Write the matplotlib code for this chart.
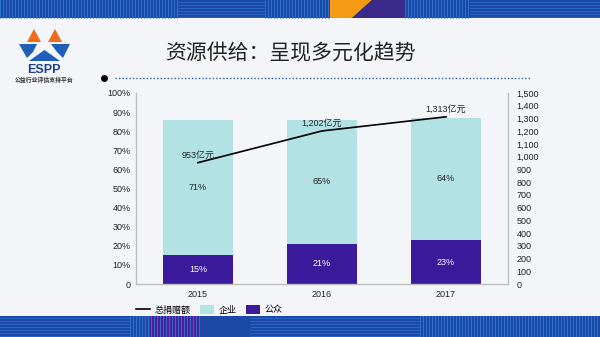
import matplotlib
matplotlib.use("Agg")
import matplotlib.pyplot as plt
from matplotlib.patches import Rectangle, Polygon
from matplotlib.ticker import FuncFormatter, MultipleLocator

plt.rcParams["font.family"] = ["Liberation Sans", "Noto Sans CJK SC", "DejaVu Sans"]

years = ["2015", "2016", "2017"]
public_pct = [15, 21, 23]
company_pct = [71, 65, 64]
total_donation = [953, 1202, 1313]
total_labels = ["953亿元", "1,202亿元", "1,313亿元"]

TEAL = "#b2e2e4"
PURPLE = "#3b1b9b"
BG = "#f3f5f9"
BAND = "#1c49a8"

fig = plt.figure(figsize=(6.0, 3.37), dpi=100, facecolor=BG)

# decorative bands at top and bottom
deco = fig.add_axes([0, 0, 1, 1], zorder=0)
deco.set_xlim(0, 600)
deco.set_ylim(337, 0)
deco.axis("off")
deco.add_patch(Rectangle((0, 0), 600, 18, color=BAND, lw=0))
deco.add_patch(Rectangle((0, 316), 600, 21, color=BAND, lw=0))
for x0, x1 in [(0, 178), (265, 330), (405, 470)]:
    for xs in range(x0, x1, 3):
        deco.plot([xs, xs], [0, 18], color="#2f7ad6", lw=0.6)
for x0, x1 in [(470, 600), (178, 265)]:
    for ys in range(2, 18, 3):
        deco.plot([x0, x1], [ys, ys], color="#2f6fd0", lw=0.5)
deco.add_patch(Polygon([(330, 0), (372, 0), (352, 18), (330, 18)], color="#f59a12", lw=0))
deco.add_patch(Polygon([(372, 0), (405, 0), (405, 18), (352, 18)], color="#3a2a8a", lw=0))
for x0, x1 in [(130, 200), (420, 600)]:
    for xs in range(x0, x1, 3):
        deco.plot([xs, xs], [316, 337], color="#2f7ad6", lw=0.6)
deco.add_patch(Rectangle((150, 316), 50, 21, color="#4a1f9a", lw=0))
for ys in range(318, 337, 3):
    deco.plot([0, 130], [ys, ys], color="#2f6fd0", lw=0.5)
    deco.plot([250, 420], [ys, ys], color="#2f6fd0", lw=0.5)

# logo
deco.add_patch(Polygon([(27, 42), (34, 29), (41, 42)], color="#f26a1b", lw=0))
deco.add_patch(Polygon([(48, 42), (55, 29), (62, 42)], color="#f26a1b", lw=0))
deco.add_patch(Polygon([(19, 44), (37, 44), (33, 52), (27, 58)], color="#1f5fb8", lw=0))
deco.add_patch(Polygon([(51, 44), (70, 44), (63, 58), (57, 52)], color="#1f5fb8", lw=0))
deco.add_patch(Polygon([(29, 61), (60, 61), (44.5, 50)], color="#1f5fb8", lw=0))
deco.text(44, 70, "ESPP", ha="center", va="center", fontsize=9,
          fontweight="bold", color="#1d3f8f")
deco.text(44, 80, "公益行业评估支持平台", ha="center", va="center",
          fontsize=4.2, fontweight="bold", color="#333333")

# title and dotted rule
deco.text(165, 53, "资源供给：呈现多元化趋势", ha="left", va="center",
          fontsize=15, color="#222222")
deco.plot([104], [78], "o", color="black", ms=4)
deco.plot([115, 530], [78, 78], color="#2a5aa8", lw=1.0, ls=(0, (1, 1.5)))

ax = fig.add_axes([136 / 600, 53 / 337, 372 / 600, 191 / 337], zorder=1)
ax.set_facecolor("none")
x = range(len(years))
ax.bar(x, public_pct, width=0.56, color=PURPLE, label="公众")
ax.bar(x, company_pct, width=0.56, bottom=public_pct, color=TEAL, label="企业")
for i in x:
    ax.text(i, public_pct[i] / 2, f"{public_pct[i]}%", ha="center", va="center",
            fontsize=6.5, color="white")
    ax.text(i, public_pct[i] + company_pct[i] / 2, f"{company_pct[i]}%",
            ha="center", va="center", fontsize=6.5, color="#222222")

ax.set_xlim(-0.5, 2.5)
ax.set_ylim(0, 100)
ax.yaxis.set_major_locator(MultipleLocator(10))
ax.yaxis.set_major_formatter(FuncFormatter(lambda v, p: "0" if v == 0 else f"{v:.0f}%"))
ax.set_xticks(list(x))
ax.set_xticklabels(years)
ax.tick_params(length=0, labelsize=6.5, colors="#222222", pad=4)
for side in ["top"]:
    ax.spines[side].set_visible(False)
for side in ["left", "bottom", "right"]:
    ax.spines[side].set_color("#bfbfbf")
    ax.spines[side].set_linewidth(1.0)

ax2 = ax.twinx()
ax2.set_ylim(0, 1500)
ax2.yaxis.set_major_locator(MultipleLocator(100))
ax2.yaxis.set_major_formatter(FuncFormatter(lambda v, p: f"{v:,.0f}"))
ax2.tick_params(length=0, labelsize=6.5, colors="#222222", pad=6)
for side in ["top", "left", "bottom"]:
    ax2.spines[side].set_visible(False)
ax2.spines["right"].set_color("#bfbfbf")
line, = ax2.plot(list(x), total_donation, color="black", lw=1.2, label="总捐赠额")
for i in x:
    ax2.text(i, total_donation[i] + 25, total_labels[i], ha="center", va="bottom",
             fontsize=6.5, color="#222222")

handles = [line] + ax.containers[1].patches[:1] + ax.containers[0].patches[:1]
fig.legend(handles, ["总捐赠额", "企业", "公众"], loc="center left",
           bbox_to_anchor=(136 / 600, 1 - 310 / 337), ncol=3, frameon=False,
           fontsize=6.5, handlelength=1.6, handleheight=1.0, columnspacing=1.0,
           handletextpad=0.5, borderaxespad=0, borderpad=0)

fig.savefig("out.png", dpi=100, facecolor=BG)
